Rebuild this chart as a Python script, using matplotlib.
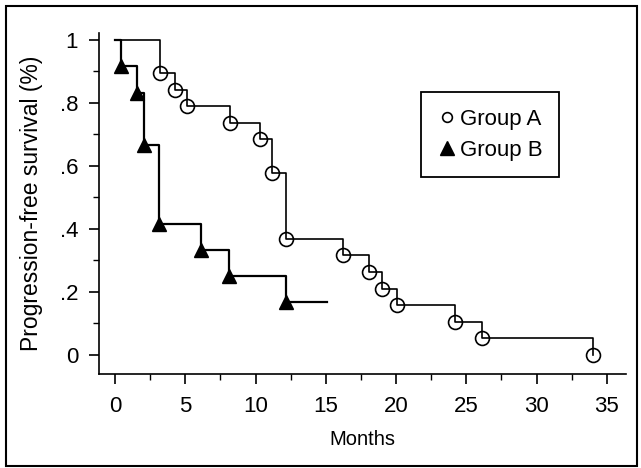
import matplotlib
matplotlib.use("Agg")
import matplotlib.pyplot as plt
from matplotlib.lines import Line2D
from matplotlib.patches import Rectangle
from matplotlib.ticker import FixedLocator, FixedFormatter, MultipleLocator

plt.rcParams['font.family'] = ['Liberation Sans', 'DejaVu Sans']

# Group A (circles): drop times (months) and survival after each drop
a_times = [3.2, 4.3, 5.1, 8.2, 10.3, 11.15, 12.2, 16.2, 18.1, 19.0, 20.1, 24.2, 26.1, 34.0]
a_surv = [0.895, 0.842, 0.789, 0.737, 0.684, 0.579, 0.368, 0.316, 0.263, 0.211, 0.158, 0.105, 0.053, 0.0]
# Group B (triangles)
b_times = [0.4, 1.6, 2.05, 3.15, 6.15, 8.1, 12.15]
b_surv = [0.917, 0.833, 0.667, 0.417, 0.333, 0.25, 0.167]
b_end = 15.1

x_ticks = [0, 5, 10, 15, 20, 25, 30, 35]
x_labels = ['0', '5', '10', '15', '20', '25', '30', '35']
y_ticks = [0, 0.2, 0.4, 0.6, 0.8, 1.0]
y_labels = ['0', '.2', '.4', '.6', '.8', '1']

W, H = 641, 468
fig = plt.figure(figsize=(W / 100, H / 100), dpi=100)
ax = fig.add_axes([99 / W, 1 - 374 / H, (626 - 99) / W, (374 - 33) / H])

# step curves
ax.step([0] + a_times, [1.0] + a_surv, where='post', color='black', lw=1.2)
ax.step([0] + b_times + [b_end], [1.0] + b_surv + [b_surv[-1]], where='post', color='black', lw=1.6)
ax.plot(a_times, a_surv, 'o', ms=10, mfc='none', mec='black', mew=1.2)
ax.plot(b_times, b_surv, '^', ms=10, mfc='black', mec='black')

ax.set_xlim(-1.14, 36.37)
ax.set_ylim(-0.0603, 1.022)

for s in ['top', 'right']:
    ax.spines[s].set_visible(False)
for s in ['left', 'bottom']:
    ax.spines[s].set_linewidth(1.2)

ax.xaxis.set_major_locator(FixedLocator(x_ticks))
ax.xaxis.set_major_formatter(FixedFormatter(x_labels))
ax.xaxis.set_minor_locator(MultipleLocator(2.5))
ax.yaxis.set_major_locator(FixedLocator(y_ticks))
ax.yaxis.set_major_formatter(FixedFormatter(y_labels))
ax.yaxis.set_minor_locator(MultipleLocator(0.1))
ax.tick_params(which='major', direction='out', length=7, width=1.2, labelsize=16, pad=8)
ax.tick_params(which='minor', direction='out', length=4, width=1.0)
ax.tick_params(axis='x', which='major', pad=9)

ax.set_xlabel('Months', fontsize=14.5, labelpad=9)
ax.set_ylabel('Progression-free survival (%)', fontsize=16.5, labelpad=12)

handles = [Line2D([], [], ls='none', marker='o', ms=7, mfc='none', mec='black', mew=1.2),
           Line2D([], [], ls='none', marker='^', ms=10, mfc='black', mec='black')]
leg = ax.legend(handles, ['Group A', 'Group B'], loc='upper left',
                bbox_to_anchor=(421 / W, 1 - 92 / H), bbox_transform=fig.transFigure,
                borderaxespad=0, fontsize=16, fancybox=False, framealpha=1,
                edgecolor='black', handlelength=0.8, handletextpad=0.2,
                borderpad=0.75, labelspacing=0.45)
leg.get_frame().set_linewidth(1.3)

fig.patches.append(Rectangle((6 / W, 2 / H), (637 - 6) / W, (466 - 6) / H,
                             transform=fig.transFigure, fill=False,
                             edgecolor='black', lw=1.5))

fig.savefig('out.png', dpi=100)
